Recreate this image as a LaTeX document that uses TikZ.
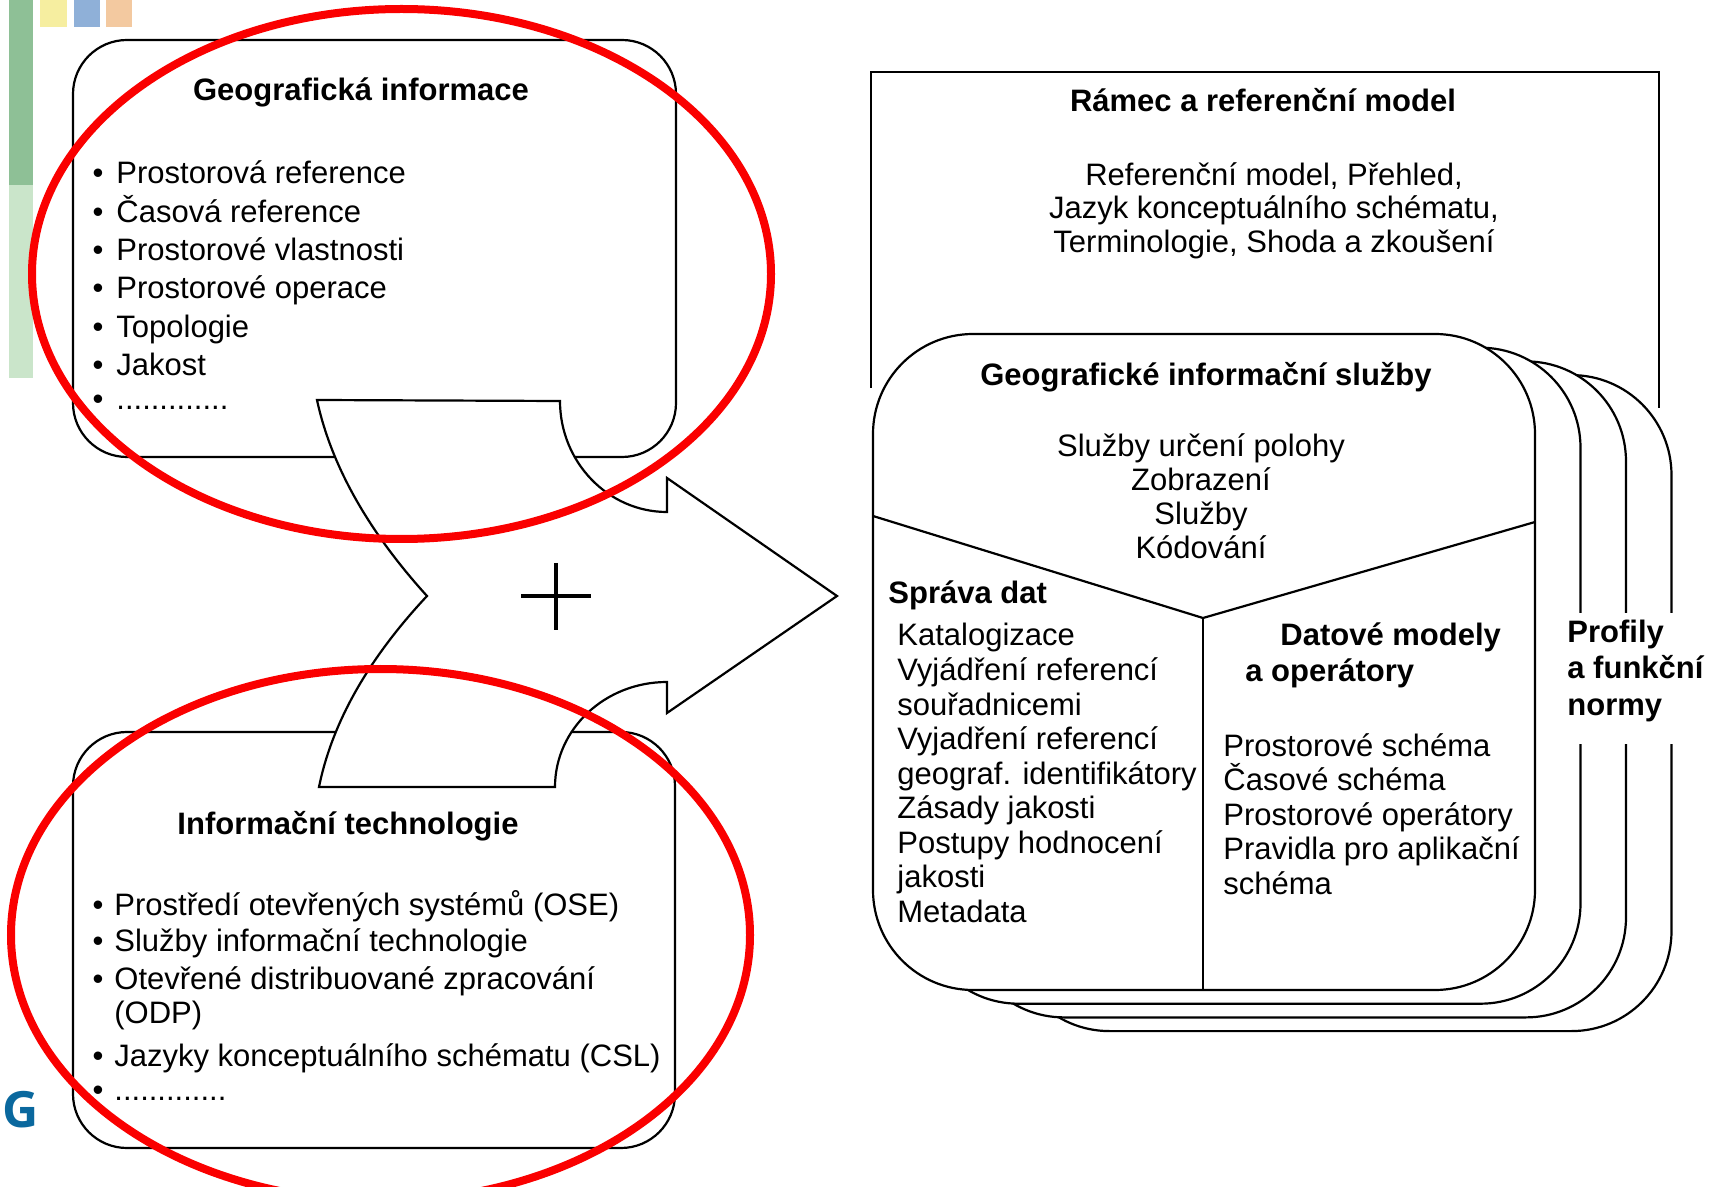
\documentclass[tikz,border=0pt]{standalone}
\usepackage{fontspec}
\setmainfont{Liberation Sans}
\newfontfamily\gfont{Open Sans}
\definecolor{barA}{RGB}{142,192,150}
\definecolor{barB}{RGB}{202,229,202}
\definecolor{sqY}{RGB}{246,238,160}
\definecolor{sqB}{RGB}{143,176,216}
\definecolor{sqO}{RGB}{243,201,160}
\definecolor{gblue}{RGB}{10,104,158}
\definecolor{ringred}{RGB}{250,0,0}
\begin{document}
\begin{tikzpicture}[x=0.5pt,y=-0.5pt,
  box/.style={draw=black,line width=1.1pt,fill=white,rounded corners=27pt},
  card/.style={draw=black,line width=1.1pt,fill=white,rounded corners=50pt},
  edge/.style={draw=black,line width=1.1pt},
  txt/.style={inner sep=0pt,font=\fontsize{15.5}{18}\selectfont},
  ttl/.style={inner sep=0pt,font=\fontsize{15.5}{18}\selectfont\bfseries},
  redring/.style={draw=ringred,line width=4pt},
]
\useasboundingbox (0,0) rectangle (1715,1187);
\fill[white] (0,0) rectangle (1715,1187);

% decorations
\fill[barA] (9,0) rectangle (33,185);
\fill[barB] (9,185) rectangle (33,378);
\fill[sqY] (40,0) rectangle (67,27);
\fill[sqB] (74,0) rectangle (100,27);
\fill[sqO] (106,0) rectangle (132,27);

% left boxes
\draw[box] (73,40) rectangle (676,457);
\draw[box] (73,732) rectangle (675,1148);

% top-left box text
\node[ttl,anchor=base] (gi) at (361,101) {Geografická informace};
\foreach \t [count=\i] in {Prostorová reference,Časová reference,Prostorové vlastnosti,Prostorové operace,Topologie,Jakost}{
  \node[txt,anchor=base] (gib\i) at (98,{184+38.3*(\i-1)}) {•};
  \node[txt,anchor=base west] (git\i) at (116,{184+38.3*(\i-1)}) {\t};
}
\node[txt,anchor=base] (gib7) at (98,410) {•};
\node[txt,anchor=base west] (git7) at (116,410) {.............};

% bottom-left box text
\node[ttl,anchor=base] (it) at (348,834) {Informační technologie};
\node[txt,anchor=base] (itb1) at (98,915) {•};
\node[txt,anchor=base west] (itt1) at (114,915) {Prostředí otevřených systémů (OSE)};
\node[txt,anchor=base] (itb2) at (98,951) {•};
\node[txt,anchor=base west] (itt2) at (114,951) {Služby informační technologie};
\node[txt,anchor=base] (itb3) at (98,989) {•};
\node[txt,anchor=base west] (itt3) at (114,989) {Otevřené distribuované zpracování};
\node[txt,anchor=base west] (itt4) at (114,1023) {(ODP)};
\node[txt,anchor=base] (itb5) at (98,1066) {•};
\node[txt,anchor=base west] (itt5) at (114,1066) {Jazyky konceptuálního schématu (CSL)};
\node[txt,anchor=base] (itb6) at (98,1100) {•};
\node[txt,anchor=base west] (itt6) at (114,1100) {.............};

% big arrow
\draw[edge,fill=white,line join=miter]
  (317,400) -- (560,401) .. controls (560,462) and (608,512) .. (667,512)
  -- (667,478) -- (837,596) -- (667,713) -- (667,682)
  .. controls (605,682) and (555,729) .. (555,787)
  -- (319,787) .. controls (332,723) and (368,659) .. (427,596)
  .. controls (368,531) and (331,465) .. (317,400) -- cycle;
\draw[line width=1.6pt] (521,596) -- (591,596);
\draw[line width=1.6pt] (556,563) -- (556,630);

% frame and reference model
\draw[edge] (871,388) -- (871,72) -- (1659,72) -- (1659,408);
\node[ttl,anchor=base] (rm) at (1263,112) {Rámec a referenční model};
\node[txt,anchor=base] (rm1) at (1274,186) {Referenční model, Přehled,};
\node[txt,anchor=base] (rm2) at (1274,219) {Jazyk konceptuálního schématu,};
\node[txt,anchor=base] (rm3) at (1274,253) {Terminologie, Shoda a zkoušení};

% stacked cards
\foreach \k in {3,2,1}{
  \draw[card] ({873+45.5*\k},{334+13.7*\k}) rectangle ({1535+45.5*\k},{990+13.7*\k});
}
\draw[card] (873,334) rectangle (1535,990);
\draw[edge] (873,516) -- (1203,618) -- (1535,522);
\draw[edge] (1203,618) -- (1203,990);

\node[ttl,anchor=base] (gis) at (1206,386) {Geografické informační služby};
\node[txt,anchor=base] (gs1) at (1201,457) {Služby určení polohy};
\node[txt,anchor=base] (gs2) at (1201,491) {Zobrazení};
\node[txt,anchor=base] (gs3) at (1201,525) {Služby};
\node[txt,anchor=base] (gs4) at (1201,559) {Kódování};

\node[ttl,anchor=base west] (sd) at (888,604) {Správa dat};
\foreach \t [count=\i] in {Katalogizace,Vyjádření referencí,souřadnicemi,Vyjadření referencí,geograf. identifikátory,Zásady jakosti,Postupy hodnocení,jakosti,Metadata}{
  \node[txt,anchor=base west] (sdt\i) at (897,{646+34.5*(\i-1)}) {\t};
}
\node[ttl,anchor=base west] (dm1) at (1280,646) {Datové modely};
\node[ttl,anchor=base west] (dm2) at (1245,682) {a operátory};
\foreach \t [count=\i] in {Prostorové schéma,Časové schéma,Prostorové operátory,Pravidla pro aplikační,schéma}{
  \node[txt,anchor=base west] (dmt\i) at (1223,{756+34.5*(\i-1)}) {\t};
}

% profiles
\fill[white] (1560,613) rectangle (1700,744);
\node[ttl,anchor=base west] (pf1) at (1567,643) {Profily};
\node[ttl,anchor=base west] (pf2) at (1567,679) {a funkční};
\node[ttl,anchor=base west] (pf3) at (1567,715) {normy};

% red ellipses
\draw[redring] (401.5,274) ellipse [x radius=369.5, y radius=265];
\draw[redring] (380.5,935) ellipse [x radius=369.5, y radius=266];

% logo letter
\node[inner sep=0pt,anchor=base west,text=gblue,font=\gfont\bfseries\fontsize{25}{25}\selectfont] (glogo) at (2,1127) {G};
\end{tikzpicture}
\end{document}
